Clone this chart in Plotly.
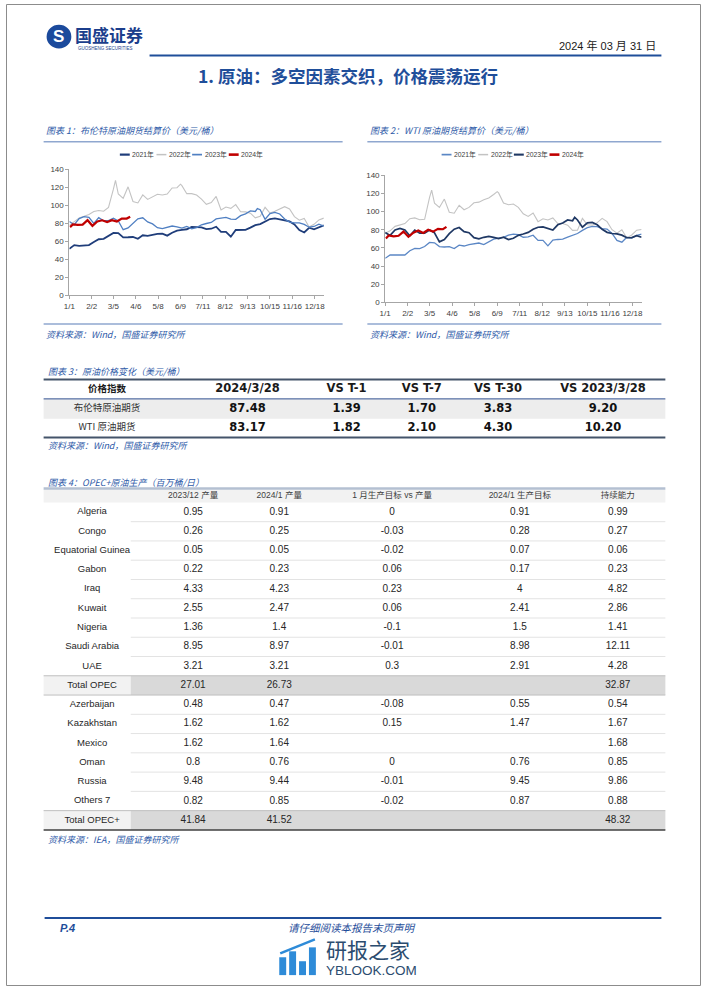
import plotly.graph_objects as go

W, H = 702, 991

# ---------------- chart data ----------------
TICK_DAYS = [0, 32, 63, 95, 127, 159, 191, 223, 255, 287, 319, 351]
TICK_TEXT = ["1/1", "2/2", "3/5", "4/6", "5/8", "6/9", "7/11", "8/12", "9/13", "10/15", "11/16", "12/18"]
Y_TICKS = [0, 20, 40, 60, 80, 100, 120, 140]
YEARS = ["2021年", "2022年", "2023年", "2024年"]

DAYS_2021 = list(range(0, 365, 7))
DAYS_2022 = [0, 7, 14, 21, 28, 35, 42, 49, 56, 63, 66, 70, 77, 84, 91, 98, 105, 112, 119, 126, 133, 140,
             147, 154, 159, 161, 168, 175, 182, 189, 196, 203, 210, 217, 224, 231, 238, 245, 252, 259,
             266, 273, 280, 287, 294, 301, 308, 315, 322, 329, 336, 343, 350, 357, 364]
DAYS_2023 = [0, 7, 14, 21, 28, 35, 42, 49, 56, 63, 70, 77, 84, 91, 98, 105, 112, 119, 126, 133, 140,
             147, 154, 161, 168, 175, 182, 189, 196, 203, 210, 217, 224, 231, 238, 245, 252, 259, 266,
             269, 273, 280, 287, 294, 301, 308, 315, 322, 329, 336, 343, 350, 357, 364]
DAYS_2024 = [1, 5, 12, 19, 26, 33, 40, 47, 54, 61, 68, 75, 82, 87]

BRENT_2021 = [51.8, 55.9, 55.1, 55.4, 55.9, 59.3, 62.4, 62.9, 66.1, 69.4, 69.2, 64.5, 64.6, 64.9, 62.9,
              66.8, 66.1, 67.3, 68.3, 68.7, 66.4, 69.6, 71.9, 72.7, 73.5, 76.2, 76.2, 75.6, 73.6, 74.1,
              76.3, 70.7, 70.6, 65.2, 72.7, 72.6, 72.9, 75.3, 78.1, 79.3, 82.4, 84.9, 85.5, 84.4, 82.7,
              82.2, 78.9, 72.7, 69.9, 75.2, 73.5, 76.1, 77.8]
BRENT_2022 = [77.8, 81.8, 86.1, 87.9, 90.0, 93.3, 94.4, 93.5, 97.9, 118.1, 128.0, 112.7, 107.9, 120.7,
              104.4, 102.8, 111.7, 106.7, 109.3, 112.4, 111.6, 112.6, 119.4, 119.7, 123.6, 122.0, 113.1,
              113.1, 111.6, 107.0, 101.2, 103.2, 110.0, 94.9, 98.2, 96.7, 100.9, 93.0, 92.8, 91.4, 86.2,
              88.0, 97.9, 91.6, 93.5, 95.8, 98.6, 96.0, 87.6, 83.6, 85.6, 76.1, 79.0, 83.9, 85.9]
BRENT_2023 = [82.1, 78.6, 85.3, 87.6, 86.7, 79.9, 86.4, 83.0, 83.2, 85.8, 82.8, 73.0, 75.0, 79.8, 85.1,
              86.3, 81.7, 79.5, 75.3, 74.2, 75.6, 77.1, 76.1, 74.8, 76.6, 74.0, 75.4, 78.5, 79.9, 81.1,
              85.0, 86.2, 86.8, 84.8, 84.5, 88.6, 90.7, 93.9, 93.3, 96.5, 95.3, 84.6, 90.9, 92.2, 90.5,
              84.9, 81.4, 80.6, 80.6, 78.9, 75.8, 76.6, 79.1, 77.0]
BRENT_2024 = [75.9, 78.8, 78.3, 78.6, 83.6, 77.3, 82.2, 83.5, 81.6, 83.6, 82.1, 85.3, 85.4, 87.5]

WTI_2021 = [48.5, 52.2, 52.4, 52.3, 52.2, 56.9, 59.5, 59.2, 61.5, 66.1, 65.6, 61.4, 61.0, 61.5, 59.3,
            63.1, 62.1, 63.6, 64.9, 65.4, 63.6, 66.3, 69.6, 70.9, 71.6, 74.1, 75.2, 74.6, 71.8, 72.1,
            74.0, 68.3, 68.4, 62.3, 68.7, 69.3, 69.7, 72.0, 74.0, 75.9, 79.4, 82.3, 83.8, 83.6, 81.3,
            80.8, 76.1, 68.2, 66.3, 71.7, 70.9, 73.8, 75.2]
WTI_2022 = [76.1, 78.9, 83.8, 85.1, 86.8, 92.3, 93.1, 91.1, 91.6, 115.7, 123.7, 109.3, 104.7, 113.9,
            99.3, 98.3, 107.0, 102.1, 104.7, 109.8, 110.5, 113.2, 115.1, 118.9, 122.1, 120.7, 109.6,
            107.6, 108.4, 104.8, 97.6, 94.7, 98.6, 89.0, 92.1, 90.8, 93.1, 86.9, 87.0, 85.1, 79.4,
            79.5, 92.6, 85.6, 85.1, 87.9, 92.6, 89.0, 80.1, 76.3, 80.0, 71.0, 74.3, 79.6, 80.3]
WTI_2023 = [76.9, 73.8, 79.9, 81.6, 79.7, 73.4, 79.7, 76.3, 76.3, 79.7, 76.7, 66.7, 69.3, 75.7, 80.7,
            82.5, 77.9, 76.8, 71.3, 70.0, 71.7, 72.7, 71.7, 70.2, 71.8, 69.2, 70.6, 73.9, 75.4, 77.1,
            80.6, 82.8, 83.2, 81.3, 79.8, 85.5, 87.5, 90.8, 90.0, 93.7, 90.8, 82.8, 87.7, 88.1, 85.5,
            80.5, 77.2, 75.9, 75.5, 74.1, 71.2, 71.4, 73.6, 71.7]
WTI_2024 = [70.4, 73.8, 72.7, 73.4, 78.0, 72.3, 76.8, 79.2, 76.5, 80.0, 78.0, 81.0, 80.6, 83.2]

# ---------------- table data ----------------
T3_HEADER = ["价格指数", "2024/3/28", "VS T-1", "VS T-7", "VS T-30", "VS 2023/3/28"]
T3_NAMES = ["布伦特原油期货", "WTI 原油期货"]
T3_PRICE = [87.48, 83.17]
T3_VS_T1 = [1.39, 1.82]
T3_VS_T7 = [1.70, 2.10]
T3_VS_T30 = [3.83, 4.30]
T3_VS_YOY = [9.20, 10.20]

T4_HEADER = ["", "2023/12 产量", "2024/1 产量", "1 月生产目标 vs 产量", "2024/1 生产目标", "持续能力"]
T4_COUNTRIES = ["Algeria", "Congo", "Equatorial Guinea", "Gabon", "Iraq", "Kuwait", "Nigeria",
                "Saudi Arabia", "UAE", "Total OPEC", "Azerbaijan", "Kazakhstan", "Mexico", "Oman",
                "Russia", "Others 7", "Total OPEC+"]
T4_PROD_2312 = [0.95, 0.26, 0.05, 0.22, 4.33, 2.55, 1.36, 8.95, 3.21, 27.01, 0.48, 1.62, 1.62, 0.8, 9.48, 0.82, 41.84]
T4_PROD_2401 = [0.91, 0.25, 0.05, 0.23, 4.23, 2.47, 1.4, 8.97, 3.21, 26.73, 0.47, 1.62, 1.64, 0.76, 9.44, 0.85, 41.52]
T4_TARGET_VS = [0, -0.03, -0.02, 0.06, 0.23, 0.06, -0.1, -0.01, 0.3, None, -0.08, 0.15, None, 0, -0.01, -0.02, None]
T4_TARGET = [0.91, 0.28, 0.07, 0.17, 4, 2.41, 1.5, 8.98, 2.91, None, 0.55, 1.47, None, 0.76, 9.45, 0.87, None]
T4_CAPACITY = [0.99, 0.27, 0.06, 0.23, 4.82, 2.86, 1.41, 12.11, 4.28, 32.87, 0.54, 1.67, 1.68, 0.85, 9.86, 0.88, 48.32]

# ---------------- styles ----------------
SANS = "Liberation Sans, Arial, Noto Sans CJK SC, sans-serif"
CJK = "Noto Sans CJK SC, sans-serif"
BOLDSANS = "DejaVu Sans, Verdana, sans-serif"
BLUE = "#1F4E9A"
CAP_BLUE = "#2E5AA8"
RULE = "#8FA7CF"

fig = go.Figure()

# ---------------- line charts ----------------
chart1 = [(DAYS_2021, BRENT_2021, "#1F3D7A", 1.8), (DAYS_2022, BRENT_2022, "#C3C3C3", 1.1),
          (DAYS_2023, BRENT_2023, "#4F7FC2", 1.3), (DAYS_2024, BRENT_2024, "#C00000", 2.2)]
chart2 = [(DAYS_2021, WTI_2021, "#5B87C5", 1.3), (DAYS_2022, WTI_2022, "#C3C3C3", 1.1),
          (DAYS_2023, WTI_2023, "#1F3864", 1.7), (DAYS_2024, WTI_2024, "#C00000", 2.2)]
for (d, v, c, w), name in zip(chart1, YEARS):
    fig.add_trace(go.Scatter(x=d, y=v, mode="lines", name=name, line=dict(color=c, width=w),
                             xaxis="x", yaxis="y", showlegend=False, hoverinfo="skip"))
for (d, v, c, w), name in zip(chart2, YEARS):
    fig.add_trace(go.Scatter(x=d, y=v, mode="lines", name=name, line=dict(color=c, width=w),
                             xaxis="x2", yaxis="y2", showlegend=False, hoverinfo="skip"))

ax_font = dict(family=SANS, size=8, color="#404040")


def xax(x0, x1, anchor):
    return dict(domain=[x0 / W, x1 / W], range=[0, 364], tickmode="array", tickvals=TICK_DAYS,
                ticktext=TICK_TEXT, tickangle=0, showline=True, linecolor="#A6A6A6", linewidth=1,
                ticks="outside", ticklen=3, tickcolor="#A6A6A6", showgrid=False, zeroline=False,
                tickfont=ax_font, anchor=anchor, fixedrange=True)


def yax(top, bottom, anchor):
    return dict(domain=[1 - bottom / H, 1 - top / H], range=[0, 140], tickmode="array",
                tickvals=Y_TICKS, showline=True, linecolor="#A6A6A6", linewidth=1, ticks="outside",
                ticklen=3, tickcolor="#A6A6A6", showgrid=False, zeroline=False, tickfont=ax_font,
                anchor=anchor, fixedrange=True)


# ---------------- helpers (page overlay in pixel units) ----------------
shapes = []
annotations = []


def hline(y, x0, x1, color, width):
    shapes.append(dict(type="line", xref="x3", yref="y3", x0=x0, x1=x1, y0=y, y1=y,
                       line=dict(color=color, width=width), layer="above"))


def rect(x0, y0, x1, y1, fill):
    shapes.append(dict(type="rect", xref="x3", yref="y3", x0=x0, x1=x1, y0=y0, y1=y1,
                       fillcolor=fill, line=dict(width=0), layer="below"))


def ann(x, y, text, size, color, family=CJK, xanchor="left", bold=False, italic=False):
    annotations.append(dict(x=x, y=y, xref="x3", yref="y3", text=text, showarrow=False,
                            xanchor=xanchor, yanchor="middle",
                            font=dict(size=size, color=color, family=family,
                                      style="italic" if italic else "normal",
                                      weight="bold" if bold else "normal")))


def add_text(xs, ys, texts, size, color="#262626", family=SANS, bold=False):
    fig.add_trace(go.Scatter(x=xs, y=ys, text=texts, mode="text", textposition="middle center",
                             textfont=dict(size=size, color=color, family=family,
                                           weight="bold" if bold else "normal"),
                             xaxis="x3", yaxis="y3", showlegend=False, hoverinfo="skip",
                             cliponaxis=False))


# page border
shapes.append(dict(type="rect", xref="x3", yref="y3", x0=0.5, x1=W - 0.5, y0=0.5, y1=H - 0.5,
                   line=dict(color="#8C8C8C", width=1), layer="above"))

# ---------------- header ----------------
shapes.append(dict(type="circle", xref="x3", yref="y3", x0=41, x1=66, y0=21, y1=45,
                   fillcolor="#1B4A9C", line=dict(width=0), layer="above"))
ann(53.5, 33, "<b>S</b>", 17, "white", SANS, xanchor="center")
ann(68, 31, "国盛证券", 17, "#1B3E8C", CJK, bold=True)
ann(71, 44.5, "GUOSHENG SECURITIES", 4.5, "#1B3E8C", SANS)
ann(659, 42, "2024 年 03 月 31 日", 11, "#1A1A1A", SANS, xanchor="right")
hline(52, 145, 662, BLUE, 2)
ann(345, 72, "1. 原油：多空因素交织，价格震荡运行", 17.5, BLUE, CJK, xanchor="center", bold=True)

# ---------------- chart captions / rules / legends ----------------
ann(38, 128, "图表 1：布伦特原油期货结算价（美元/桶）", 9, CAP_BLUE, CJK, italic=True)
ann(366, 128, "图表 2：WTI 原油期货结算价（美元/桶）", 9, CAP_BLUE, CJK, italic=True)
hline(139, 38, 340, RULE, 1.5)
hline(139, 365, 662, RULE, 1.5)
hline(323, 38, 340, RULE, 1.5)
hline(323, 365, 662, RULE, 1.5)
ann(38, 334, "资料来源：Wind，国盛证券研究所", 9, CAP_BLUE, CJK, italic=True)
ann(366, 334, "资料来源：Wind，国盛证券研究所", 9, CAP_BLUE, CJK, italic=True)

LEG1_X = [115, 152, 188, 225]
LEG2_X = [440, 477, 513, 549]
for lx_list, series in ((LEG1_X, chart1), (LEG2_X, chart2)):
    for lx, (d, v, c, w), name in zip(lx_list, series, YEARS):
        shapes.append(dict(type="line", xref="x3", yref="y3", x0=lx, x1=lx + 10, y0=152, y1=152,
                           line=dict(color=c, width=w + 0.4), layer="above"))
        ann(lx + 10.5, 152, name, 6.8, "#404040", SANS)

# ---------------- table 3 ----------------
T3_X = [102, 244, 344, 420, 497, 603]
T3_HEAD_Y = 389
T3_ROWS_Y = [408.5, 428]
ann(40, 371, "图表 3：原油价格变化（美元/桶）", 9, CAP_BLUE, CJK, italic=True)
rect(38, 398.5, 666, 418.5, "#EDEDED")
hline(379, 38, 666, "#44546A", 2)
hline(398.5, 38, 666, "#2F4F8F", 1)
hline(437.5, 38, 666, "#44546A", 2)
add_text([T3_X[0]], [T3_HEAD_Y], [T3_HEADER[0]], 9.5, "#1A1A1A", CJK, bold=True)
add_text(T3_X[1:], [T3_HEAD_Y] * 5, T3_HEADER[1:], 11.5, "#1A1A1A", BOLDSANS, bold=True)
add_text([T3_X[0]] * 2, T3_ROWS_Y, T3_NAMES, 9.5, "#333333", CJK)
for col, vals in zip(T3_X[1:], (T3_PRICE, T3_VS_T1, T3_VS_T7, T3_VS_T30, T3_VS_YOY)):
    add_text([col] * len(vals), T3_ROWS_Y, [f"{v:.2f}" for v in vals], 11.5, "#111111",
             BOLDSANS, bold=True)
ann(40, 446, "资料来源：Wind，国盛证券研究所", 9, CAP_BLUE, CJK, italic=True)

# ---------------- table 4 ----------------
T4_X = [87, 189, 276, 390, 519, 618]
T4_LEFT, T4_SPLIT, T4_RIGHT = 38, 126, 666
T4_HEAD_Y = 496.5
T4_ROW0 = 512.7
T4_PITCH = 19.44
rows_y = [T4_ROW0 + i * T4_PITCH for i in range(len(T4_COUNTRIES))]
totals = [i for i, n in enumerate(T4_COUNTRIES) if n.startswith("Total")]

ann(40, 483, "图表 4：OPEC+原油生产（百万桶/日）", 9, CAP_BLUE, CJK, italic=True)
rect(T4_LEFT, 490, T4_RIGHT, rows_y[0] - T4_PITCH / 2, "#F2F2F2")
for i in totals:
    rect(T4_LEFT, rows_y[i] - T4_PITCH / 2, T4_SPLIT, rows_y[i] + T4_PITCH / 2, "#F2F2F2")
    rect(T4_SPLIT, rows_y[i] - T4_PITCH / 2, T4_RIGHT, rows_y[i] + T4_PITCH / 2, "#D9D9D9")
for i in range(1, len(rows_y)):
    yb = rows_y[i] - T4_PITCH / 2
    if i in totals or (i - 1) in totals:
        hline(yb, T4_LEFT, T4_RIGHT, "#BFBFBF", 1)
    else:
        hline(yb, T4_SPLIT, T4_RIGHT, "#E3E3E3", 1)
hline(489, T4_LEFT, T4_RIGHT, "#B4C0D2", 2.5)
hline(rows_y[-1] + T4_PITCH / 2, T4_LEFT, T4_RIGHT, "#404040", 1.5)

add_text(T4_X[1:], [T4_HEAD_Y] * 5, T4_HEADER[1:], 8.5, "#404040", SANS)
add_text([T4_X[0]] * len(rows_y), rows_y, T4_COUNTRIES, 9.5, "#262626", SANS)


def fmt(v):
    return "" if v is None else f"{v:g}"


for col, vals in zip(T4_X[1:], (T4_PROD_2312, T4_PROD_2401, T4_TARGET_VS, T4_TARGET, T4_CAPACITY)):
    add_text([col] * len(vals), rows_y, [fmt(v) for v in vals], 10, "#262626", SANS)
ann(40, 843, "资料来源：IEA，国盛证券研究所", 9, CAP_BLUE, CJK, italic=True)

# ---------------- footer ----------------
hline(922.5, 39, 662, BLUE, 2)
ann(53, 932, "P.4", 11, BLUE, SANS, bold=True, italic=True)
ann(349, 932, "请仔细阅读本报告末页声明", 10.5, BLUE, CJK, xanchor="center", italic=True)
for bx0, btop in ((276, 962), (286, 956), (296, 966), (306, 952)):
    shapes.append(dict(type="rect", xref="x3", yref="y3", x0=bx0, x1=bx0 + 7, y0=btop, y1=980,
                       fillcolor="#2E8BD8", line=dict(width=0), layer="above"))
shapes.append(dict(type="line", xref="x3", yref="y3", x0=277, x1=312, y0=958, y1=944,
                   line=dict(color="#2E8BD8", width=2.5), layer="above"))
ann(321, 954, "研报之家", 21, "#2B4C6F", CJK)
ann(321, 975, "YBLOOK.COM", 13.5, "#2B4C6F", SANS)

fig.update_layout(
    width=W, height=H, autosize=False,
    margin=dict(l=0, r=0, t=0, b=0, pad=0),
    paper_bgcolor="white", plot_bgcolor="rgba(0,0,0,0)",
    showlegend=False,
    xaxis=xax(64, 321, "y"), yaxis=yax(167, 294, "x"),
    xaxis2=xax(383, 642, "y2"), yaxis2=yax(173, 301, "x2"),
    xaxis3=dict(domain=[0, 1], range=[0, W], visible=False, anchor="y3", fixedrange=True),
    yaxis3=dict(domain=[0, 1], range=[H, 0], visible=False, anchor="x3", fixedrange=True),
    shapes=shapes, annotations=annotations,
)

fig.write_html(
    "out.html",
    config={"displayModeBar": False},
    post_script="document.body.style.margin='0px';document.body.style.overflow='hidden';",
)
